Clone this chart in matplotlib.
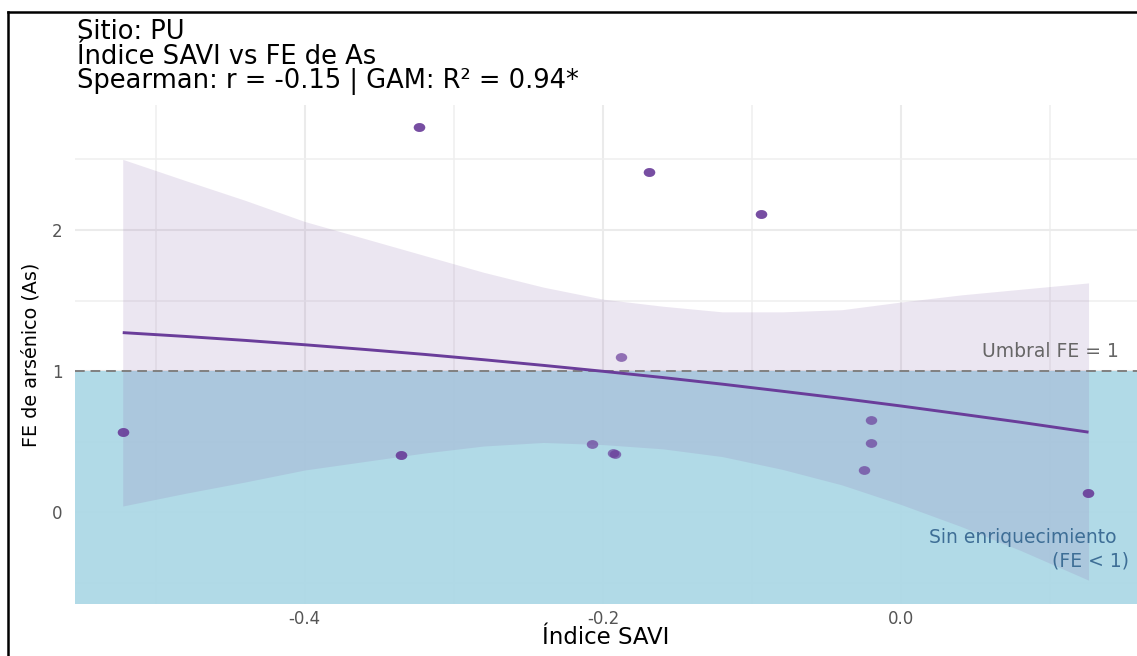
import matplotlib
matplotlib.use("Agg")
import matplotlib.pyplot as plt
from matplotlib.path import Path
from matplotlib.transforms import Affine2D
from matplotlib.lines import Line2D

# Observations (repeated samples share coordinates and overplot)
savi = [-0.5219, -0.5219, -0.3356, -0.3356, -0.3233, -0.3233, -0.2074,
        -0.1930, -0.1922, -0.1879, -0.1689, -0.1689, -0.0944, -0.0944,
        -0.0250, -0.0201, -0.0201, 0.1254, 0.1254]
fe_as = [0.572, 0.572, 0.404, 0.404, 2.727, 2.727, 0.484,
         0.422, 0.412, 1.103, 2.413, 2.413, 2.111, 2.111,
         0.300, 0.494, 0.654, 0.135, 0.135]

# GAM smooth with its confidence band
smooth_x = [-0.522, -0.48, -0.44, -0.40, -0.36, -0.32, -0.28, -0.24, -0.20,
            -0.16, -0.12, -0.08, -0.04, 0.00, 0.04, 0.08, 0.1255]
smooth_fit = [1.273, 1.246, 1.218, 1.187, 1.154, 1.119, 1.081, 1.041, 0.999,
              0.955, 0.908, 0.858, 0.807, 0.753, 0.696, 0.638, 0.568]
smooth_lo = [0.045, 0.135, 0.215, 0.30, 0.36, 0.42, 0.47, 0.495, 0.48,
             0.45, 0.395, 0.305, 0.195, 0.055, -0.10, -0.27, -0.48]
smooth_hi = [2.50, 2.35, 2.21, 2.06, 1.94, 1.82, 1.70, 1.595, 1.51,
             1.46, 1.42, 1.42, 1.435, 1.49, 1.54, 1.58, 1.625]

threshold = 1.0
x_major = [-0.4, -0.2, 0.0]
x_major_labels = ["-0.4", "-0.2", "0.0"]
x_minor = [-0.5, -0.3, -0.1, 0.1]
y_major = [0, 1, 2]
y_major_labels = ["0", "1", "2"]
y_minor = [-0.5, 0.5, 1.5, 2.5]

title_lines = ["Sitio: PU",
               "Índice SAVI vs FE de As",
               "Spearman: r = -0.15 | GAM: R² = 0.94*"]

PURPLE = "#6A3D9A"
W, H = 1137, 656

fig = plt.figure(figsize=(W / 100, H / 100), dpi=100)
ax = fig.add_axes([75 / W, 1 - 604 / H, (W - 75) / W, (604 - 105) / H])
ax.set_xlim(-0.554, 0.158)
ax.set_ylim(-0.649, 2.885)

for s in ax.spines.values():
    s.set_visible(False)
ax.set_facecolor("white")

# grid
for v in x_major:
    ax.axvline(v, color="#EBEBEB", lw=1.5, zorder=0)
for v in x_minor:
    ax.axvline(v, color="#EFEFEF", lw=1.1, zorder=0)
for v in y_major:
    ax.axhline(v, color="#EBEBEB", lw=1.5, zorder=0)
for v in y_minor:
    ax.axhline(v, color="#EFEFEF", lw=1.1, zorder=0)

ax.set_xticks(x_major)
ax.set_xticklabels(x_major_labels)
ax.set_yticks(y_major)
ax.set_yticklabels(y_major_labels)
ax.tick_params(length=0, labelsize=12, labelcolor="#555555")
ax.tick_params(axis="x", pad=4)
ax.tick_params(axis="y", pad=9)

# region below the enrichment threshold
ax.axhspan(ax.get_ylim()[0], threshold, color="#ADD8E6", alpha=0.95, lw=0, zorder=1)

# confidence band and smooth
ax.fill_between(smooth_x, smooth_lo, smooth_hi, color="#8E6BAE", alpha=0.17, lw=0, zorder=2)
ax.axhline(threshold, color="#808080", lw=1.4, ls=(0, (5, 3)), zorder=3)
ax.plot(smooth_x, smooth_fit, color=PURPLE, lw=2.1, zorder=4, solid_capstyle="butt")

# points (slightly wide ellipse markers)
ellipse = Path.unit_circle().transformed(Affine2D().scale(1.3, 1.0))
ax.scatter(savi, fe_as, s=68, marker=ellipse, color=PURPLE, alpha=0.7,
           linewidths=0, zorder=5)

# annotations
ax.text(0.1456, 1.098, "Umbral FE = 1", ha="right", va="baseline",
        fontsize=13.5, color="#666666", zorder=6)
ax.text(0.1443, (512.4 - 543) / 141.2, "Sin enriquecimiento", ha="right",
        va="baseline", fontsize=13.5, color="#3E6E96", zorder=6)
ax.text(0.1524, (512.4 - 567) / 141.2, "(FE < 1)", ha="right",
        va="baseline", fontsize=13.5, color="#3E6E96", zorder=6)

# axis titles
ax.set_xlabel("Índice SAVI", fontsize=16.5, color="black")
ax.xaxis.label.set_va("center")
ax.xaxis.set_label_coords(0.5, (604 - 637) / 499)
ax.set_ylabel("FE de arsénico (As)", fontsize=13.8, color="black")
ax.yaxis.label.set_va("center")
ax.yaxis.set_label_coords((31.5 - 75) / 1062, 0.5)

# title block
for line, base in zip(title_lines, [39, 63.5, 88]):
    fig.text(77 / W, 1 - base / H, line, ha="left", va="baseline",
             fontsize=18.5, color="black")

# outer frame (top and left edges)
fig.add_artist(Line2D([8 / W, 1.0], [1 - 12 / H, 1 - 12 / H], color="black",
                      lw=1.8, transform=fig.transFigure))
fig.add_artist(Line2D([8 / W, 8 / W], [0, 1 - 12 / H], color="black",
                      lw=1.8, transform=fig.transFigure))

fig.savefig("out.png", dpi=100)
